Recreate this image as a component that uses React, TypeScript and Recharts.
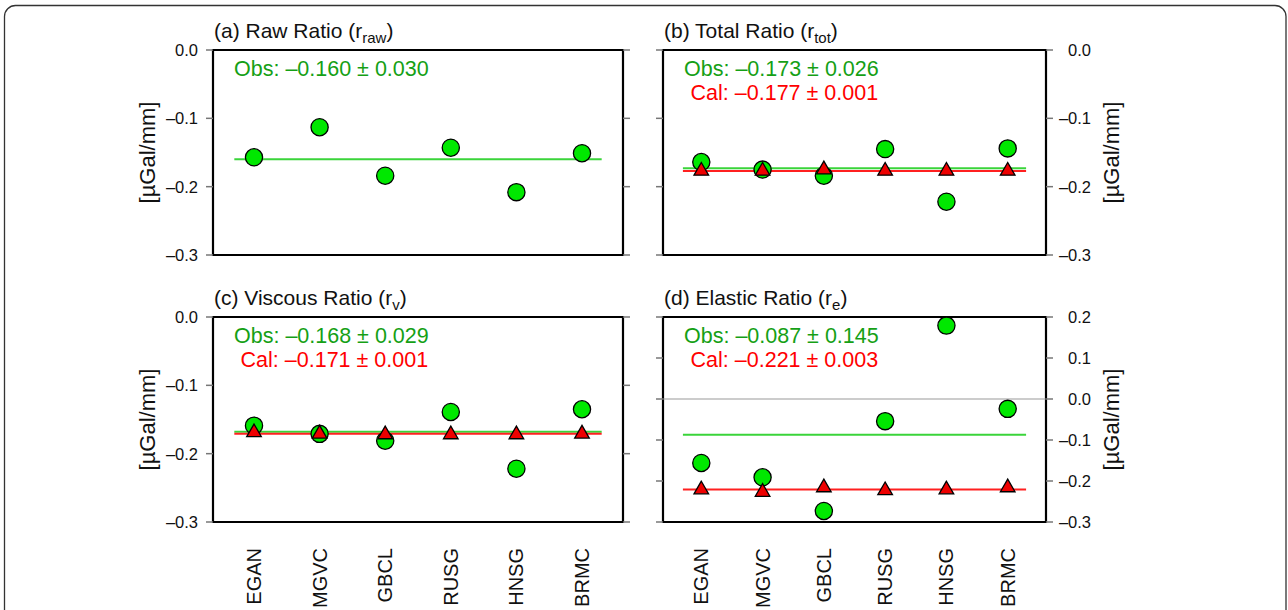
import React from 'react';
import { ScatterChart, Scatter, XAxis, YAxis, ReferenceLine, ReferenceArea } from 'recharts';

// ---------------- data ----------------
const stations = ['EGAN', 'MGVC', 'GBCL', 'RUSG', 'HNSG', 'BRMC'];
const xPositions = [1, 2, 3, 4, 5, 6];

const rawObs = [-0.157, -0.113, -0.184, -0.143, -0.208, -0.151];
const totObs = [-0.164, -0.175, -0.184, -0.145, -0.222, -0.144];
const totCal = [-0.177, -0.177, -0.175, -0.177, -0.177, -0.177];
const visObs = [-0.159, -0.171, -0.181, -0.139, -0.222, -0.135];
const visCal = [-0.169, -0.171, -0.172, -0.172, -0.172, -0.171];
const elaObs = [-0.156, -0.191, -0.273, -0.054, 0.179, -0.024];
const elaCal = [-0.221, -0.227, -0.216, -0.223, -0.221, -0.216];

const titleMain = ['(a) Raw Ratio (r', '(b) Total Ratio (r', '(c) Viscous Ratio (r', '(d) Elastic Ratio (r'];
const titleSub = ['raw', 'tot', 'v', 'e'];
const obsMean = [-0.16, -0.173, -0.168, -0.087];
const obsStd = [0.03, 0.026, 0.029, 0.145];
const calMean = [null, -0.177, -0.171, -0.221];
const calStd = [null, 0.001, 0.001, 0.003];

const ticksUpper = [0, -0.1, -0.2, -0.3];
const ticksElastic = [0.2, 0.1, 0, -0.1, -0.2, -0.3];
const xDomain = [0.375, 6.625];
const meanSpan = [0.7, 6.3];
const unitLabel = '[µGal/mm]';

// ---------------- style / layout ----------------
const W = 1288;
const H = 610;
const FONT = '"Liberation Sans", Arial, Helvetica, sans-serif';
const C_CIRCLE = '#00e800';
const C_TRI = '#ee0000';
const C_GLINE = '#3ad43a';
const C_RLINE = '#ff2020';
const C_GTEXT = '#15a015';
const C_RTEXT = '#ff0000';
const C_TICK = '#777';

type Side = 'left' | 'right';
const layouts: { left: number; right: number; top: number; bottom: number; side: Side; showX: boolean }[] = [
  { left: 213, right: 623, top: 50, bottom: 255, side: 'left', showX: false },
  { left: 663, right: 1046, top: 50, bottom: 255, side: 'right', showX: false },
  { left: 213, right: 623, top: 317, bottom: 522, side: 'left', showX: true },
  { left: 663, right: 1046, top: 317, bottom: 522, side: 'right', showX: true },
];

const panels = [
  { obs: rawObs, cal: null as number[] | null, ticks: ticksUpper, zero: false },
  { obs: totObs, cal: totCal, ticks: ticksUpper, zero: false },
  { obs: visObs, cal: visCal, ticks: ticksUpper, zero: false },
  { obs: elaObs, cal: elaCal, ticks: ticksElastic, zero: true },
];

const fmt1 = (v: number) => (v < 0 ? '–' : '') + Math.abs(v).toFixed(1);
const fmt3 = (v: number) => (v < 0 ? '–' : '') + Math.abs(v).toFixed(3);

// ---------------- shapes / ticks ----------------
const CircleShape = (props: any) => {
  const { cx, cy } = props;
  if (cx == null || cy == null) return <g />;
  return <circle cx={cx} cy={cy} r={8.6} fill={C_CIRCLE} stroke="#000" strokeWidth={1.3} />;
};

const TriangleShape = (props: any) => {
  const { cx, cy } = props;
  if (cx == null || cy == null) return <g />;
  const s = 14.6;
  const h = (s * Math.sqrt(3)) / 2;
  const d = `M${cx},${cy - (2 * h) / 3} L${cx - s / 2},${cy + h / 3} L${cx + s / 2},${cy + h / 3} Z`;
  return <path d={d} fill={C_TRI} stroke="#000" strokeWidth={1.3} strokeLinejoin="miter" />;
};

const EmptyTick = () => <g />;

const LeftTick = (props: any) => {
  const { x, y, payload } = props;
  return (
    <text x={x} y={y} dy="0.355em" textAnchor="end" fontFamily={FONT} fontSize={16.5} fill="#111">
      {fmt1(payload.value)}
    </text>
  );
};

const RightTick = (props: any) => {
  const { x, y, payload } = props;
  return (
    <text x={x + 36} y={y} dy="0.355em" textAnchor="end" fontFamily={FONT} fontSize={16.5} fill="#111">
      {fmt1(payload.value)}
    </text>
  );
};

const CategoryTick = (props: any) => {
  const { x, y, payload } = props;
  const name = stations[payload.value - 1];
  const tx = x + 7;
  const ty = y + 26;
  return (
    <text
      x={tx}
      y={ty}
      transform={`rotate(-90, ${tx}, ${ty})`}
      textAnchor="end"
      fontFamily={FONT}
      fontSize={20}
      fill="#111"
    >
      {name}
    </text>
  );
};

// ---------------- panel ----------------
function Panel({ i }: { i: number }) {
  const L = layouts[i];
  const p = panels[i];
  const wl = L.side === 'left' ? 90 : 10;
  const wr = L.side === 'right' ? 90 : 10;
  const hx = L.showX ? 60 : 0;
  const margin = { left: L.left - wl, right: W - L.right - wr, top: L.top, bottom: H - L.bottom - hx };
  const domain = [p.ticks[p.ticks.length - 1], p.ticks[0]];
  const obsData = xPositions.map((x, k) => ({ x, y: p.obs[k] }));
  const calData = p.cal ? xPositions.map((x, k) => ({ x, y: (p.cal as number[])[k] })) : [];
  const om = obsMean[i];
  const cm = calMean[i];

  return (
    <div style={{ position: 'absolute', left: 0, top: 0 }}>
      <ScatterChart width={W} height={H} margin={margin}>
        <XAxis
          type="number"
          dataKey="x"
          domain={xDomain}
          ticks={xPositions}
          hide={!L.showX}
          height={hx}
          axisLine={false}
          tickLine={false}
          tickSize={0}
          tickMargin={0}
          tick={CategoryTick}
          interval={0}
          allowDataOverflow
        />
        <YAxis
          yAxisId="L"
          orientation="left"
          type="number"
          dataKey="y"
          domain={domain}
          ticks={p.ticks}
          width={wl}
          axisLine={false}
          tickLine={{ stroke: C_TICK, strokeWidth: 1.5 }}
          tickSize={7}
          tickMargin={8}
          tick={L.side === 'left' ? LeftTick : EmptyTick}
          interval={0}
          allowDataOverflow
        />
        <YAxis
          yAxisId="R"
          orientation="right"
          type="number"
          dataKey="y"
          domain={domain}
          ticks={p.ticks}
          width={wr}
          axisLine={false}
          tickLine={{ stroke: C_TICK, strokeWidth: 1.5 }}
          tickSize={7}
          tickMargin={2}
          tick={L.side === 'right' ? RightTick : EmptyTick}
          interval={0}
          allowDataOverflow
        />
        {p.zero && <ReferenceLine yAxisId="L" y={0} stroke="#999" strokeWidth={1} />}
        <ReferenceLine
          yAxisId="L"
          segment={[
            { x: meanSpan[0], y: om },
            { x: meanSpan[1], y: om },
          ]}
          stroke={C_GLINE}
          strokeWidth={2}
        />
        {cm != null && (
          <ReferenceLine
            yAxisId="L"
            segment={[
              { x: meanSpan[0], y: cm },
              { x: meanSpan[1], y: cm },
            ]}
            stroke={C_RLINE}
            strokeWidth={2}
          />
        )}
        <Scatter yAxisId="L" data={obsData} shape={CircleShape} isAnimationActive={false} />
        {p.cal && <Scatter yAxisId="L" data={calData} shape={TriangleShape} isAnimationActive={false} />}
        <ReferenceArea
          yAxisId="L"
          x1={xDomain[0]}
          x2={xDomain[1]}
          y1={domain[0]}
          y2={domain[1]}
          fill="none"
          fillOpacity={0}
          stroke="#000"
          strokeWidth={2.2}
        />
      </ScatterChart>
    </div>
  );
}

function Annotations() {
  return (
    <svg
      width={W}
      height={H}
      style={{ position: 'absolute', left: 0, top: 0, pointerEvents: 'none' }}
      fontFamily={FONT}
    >
      <rect x={4.5} y={5.5} width={1281.5} height={700} rx={11} fill="none" stroke="#333" strokeWidth={1.3} />
      {layouts.map((L, i) => {
        const unitX = L.side === 'left' ? 147.5 : 1111.7;
        const unitY = (L.top + L.bottom) / 2;
        const om = obsMean[i];
        const cm = calMean[i];
        const cs = calStd[i];
        const obsX = L.left + 21;
        return (
          <g key={i}>
            <text x={L.left + 1} y={L.top - 12} fontSize={21} fill="#111">
              {titleMain[i]}
              <tspan dy={5} fontSize={15}>
                {titleSub[i]}
              </tspan>
              <tspan dy={-5}>)</tspan>
            </text>
            <text x={obsX} y={L.top + 26} fontSize={21.5} fill={C_GTEXT}>
              {`Obs: ${fmt3(om)} ± ${obsStd[i].toFixed(3)}`}
            </text>
            {cm != null && cs != null && (
              <text x={obsX + 6.6} y={L.top + 49.5} fontSize={21.5} fill={C_RTEXT}>
                {`Cal: ${fmt3(cm)} ± ${cs.toFixed(3)}`}
              </text>
            )}
            <text
              x={unitX}
              y={unitY}
              transform={`rotate(-90, ${unitX}, ${unitY})`}
              textAnchor="middle"
              dominantBaseline="central"
              fontSize={22}
              fill="#111"
            >
              {unitLabel}
            </text>
          </g>
        );
      })}
    </svg>
  );
}

export default function App() {
  return (
    <div
      style={{
        position: 'absolute',
        left: 0,
        top: 0,
        width: W,
        height: H,
        overflow: 'hidden',
        background: '#fff',
      }}
    >
      {[0, 1, 2, 3].map((i) => (
        <Panel key={i} i={i} />
      ))}
      <Annotations />
    </div>
  );
}
